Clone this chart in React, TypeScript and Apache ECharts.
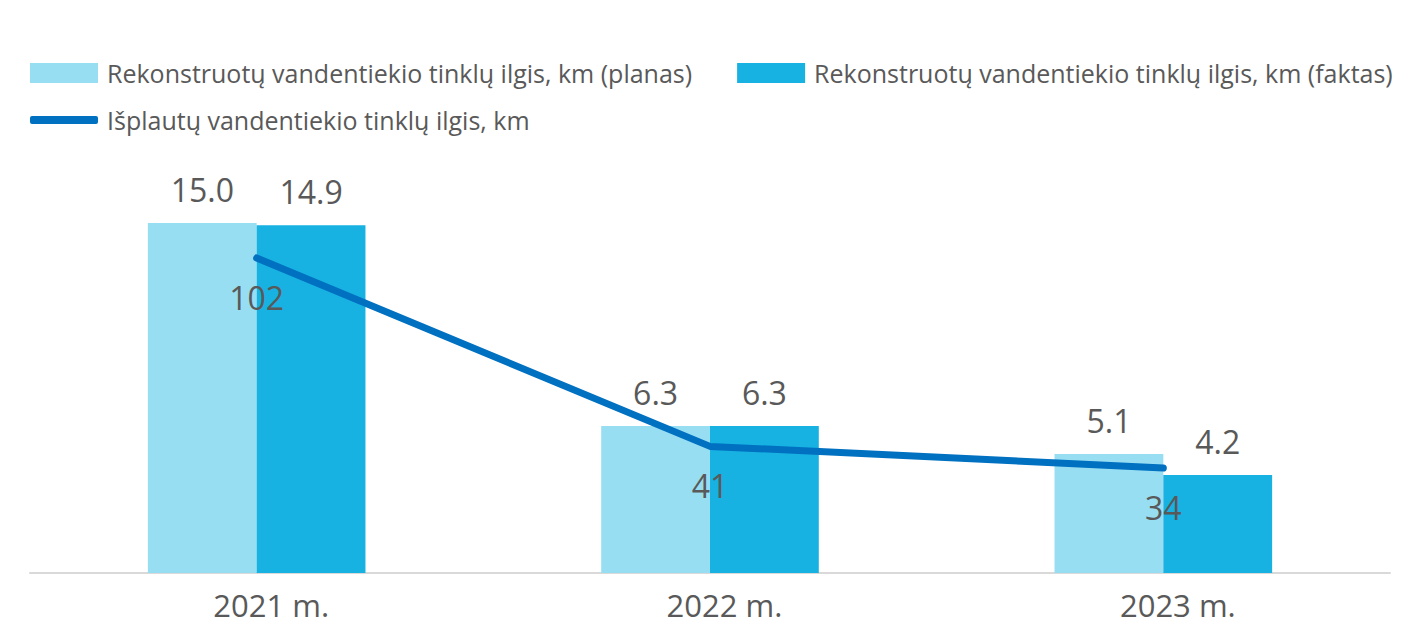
import React, { useEffect, useRef } from "react";
import * as echarts from "echarts";

const categories = ["2021 m.", "2022 m.", "2023 m."];
const planName = "Rekonstruotų vandentiekio tinklų ilgis, km (planas)";
const factName = "Rekonstruotų vandentiekio tinklų ilgis, km (faktas)";
const lineName = "Išplautų vandentiekio tinklų ilgis, km";
const planValues = [15.0, 6.3, 5.1];
const factValues = [14.9, 6.3, 4.2];
const flushedValues = [102, 41, 34];

const FONT = "'Open Sans', sans-serif";
const GREY = "#595959";

export default function App() {
  const ref = useRef<HTMLDivElement>(null);
  useEffect(() => {
    if (!ref.current) return;
    const chart = echarts.init(ref.current, null, { renderer: "svg" });
    const legendText = { fontFamily: FONT, fontSize: 25, color: GREY, lineHeight: 30, padding: [0, 0, 0, 4] };
    chart.setOption({
      animation: false,
      backgroundColor: "#ffffff",
      textStyle: { fontFamily: FONT },
      legend: [
        {
          data: [planName, factName],
          left: 30,
          top: 58,
          padding: 0,
          itemWidth: 68,
          itemHeight: 20,
          itemGap: 45,
          icon: "rect",
          textStyle: legendText,
        },
        {
          data: [{ name: lineName, icon: "roundRect" }],
          left: 30,
          top: 105,
          padding: 0,
          itemWidth: 68,
          itemHeight: 8,
          textStyle: legendText,
        },
      ],
      grid: { left: 30, right: 37, top: 153, bottom: 51, containLabel: false },
      xAxis: {
        type: "category",
        data: categories,
        axisLine: { lineStyle: { color: "#d9d9d9", width: 2 } },
        axisTick: { show: false },
        axisLabel: { fontFamily: FONT, fontSize: 31, color: GREY, margin: 16, padding: [0, 0, 0, 29] },
      },
      yAxis: [
        { type: "value", min: 0, max: 18, show: false, splitLine: { show: false } },
        { type: "value", min: 0, max: 136, show: false, splitLine: { show: false } },
      ],
      series: [
        {
          name: planName,
          type: "bar",
          data: planValues,
          barGap: "0%",
          barCategoryGap: "52%",
          itemStyle: { color: "#97DEF3" },
          label: {
            show: true,
            position: "top",
            distance: 18,
            formatter: (p: any) => Number(p.value).toFixed(1),
            fontFamily: FONT,
            fontSize: 32,
            color: GREY,
          },
        },
        {
          name: factName,
          type: "bar",
          data: factValues,
          itemStyle: { color: "#17B2E2" },
          label: {
            show: true,
            position: "top",
            distance: 18,
            formatter: (p: any) => Number(p.value).toFixed(1),
            fontFamily: FONT,
            fontSize: 32,
            color: GREY,
          },
        },
        {
          name: lineName,
          type: "line",
          yAxisIndex: 1,
          data: flushedValues,
          symbol: "circle",
          symbolSize: 1,
          itemStyle: { color: "#0070C0" },
          lineStyle: { color: "#0070C0", width: 7, cap: "round", join: "round" },
          label: {
            show: true,
            position: "bottom",
            distance: 23,
            fontFamily: FONT,
            fontSize: 32,
            color: GREY,
          },
          z: 5,
        },
      ],
    });
    return () => chart.dispose();
  }, []);
  return (
    <div
      ref={ref}
      style={{ position: "fixed", left: 0, top: 0, width: 1427, height: 624, background: "#fff" }}
    />
  );
}
